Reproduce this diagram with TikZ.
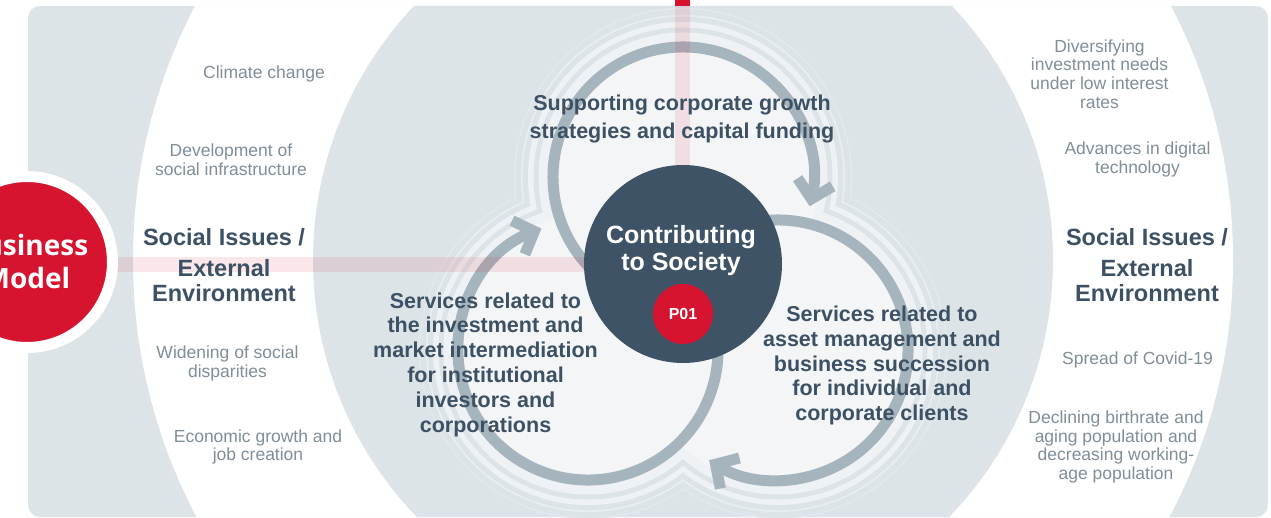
\documentclass[tikz,border=0pt]{standalone}
\usepackage{fontspec}
\setmainfont{Liberation Sans}
\newfontfamily\modelfont{Open Sans}
\usetikzlibrary{arrows.meta}

\definecolor{panel}{HTML}{DDE4E8}
\definecolor{trefoil}{HTML}{F3F5F7}
\definecolor{haloA}{HTML}{EEF2F4}
\definecolor{haloB}{HTML}{E9EEF1}
\definecolor{haloC}{HTML}{E5EAED}
\definecolor{loop}{HTML}{A6B4BD}
\definecolor{slate}{HTML}{3E5366}
\definecolor{ink}{HTML}{3D5165}
\definecolor{note}{HTML}{808E98}
\definecolor{accent}{HTML}{D7142F}

\tikzset{
  issue/.style={text=note, font=\fontsize{17.5}{18.8}\selectfont, align=center, inner sep=0pt},
  heading/.style={text=ink, font=\fontsize{23.5}{25}\selectfont\bfseries, align=center, inner sep=0pt},
  service/.style={text=ink, font=\fontsize{21.5}{24.8}\selectfont\bfseries, align=center, inner sep=0pt},
  loopline/.style={draw=loop, line width=11pt, -{Straight Barb[length=17pt,width=36pt]}},
  strip/.style={fill=accent, opacity=0.1},
}

% union of the three loop discs at a given radius
\newcommand\lobes[2]{\fill[#1] (top) circle[radius=#2] (lft) circle[radius=#2] (rgt) circle[radius=#2];}

\begin{document}
\begin{tikzpicture}[x=1pt,y=1pt]
\useasboundingbox (0,0) rectangle (1271,-518);

% panel with the white band of social issues
\fill[panel, rounded corners=12pt] (28,-6) rectangle (1268,-517);
\begin{scope}
  \clip[rounded corners=12pt] (28,-6) rectangle (1268,-517);
  \fill[white] (683,-260) circle[radius=550pt];
  \fill[panel] (683,-260) circle[radius=370pt];
\end{scope}

% centres of the three business loops
\coordinate (top) at (683,-177);
\coordinate (lft) at (588,-350);
\coordinate (rgt) at (778,-350);

% halo rings around the loops
\lobes{haloC}{169pt}
\lobes{panel}{167.8pt}
\lobes{haloB}{162pt}
\lobes{panel}{160.3pt}
\lobes{haloA}{155pt}
\lobes{panel}{149.5pt}
\lobes{haloA}{144.5pt}
\lobes{trefoil}{135.5pt}

% the three loops with their arrows
\draw[loopline] (top) ++(240:130pt) arc[start angle=240, end angle=-13, radius=130pt];
\draw[loopline] (rgt) ++(120:130pt) arc[start angle=120, end angle=-122, radius=130pt];
\draw[loopline] (lft) ++(20:130pt) arc[start angle=20, end angle=-249, radius=130pt];

% red guide lines
\fill[accent] (675,0) rectangle (690,-6);
\fill[strip] (675,-6) rectangle (690,-264);
\fill[strip] (100,-257) rectangle (683,-272);

% core circle
\node[circle, fill=slate, minimum size=198pt, inner sep=0pt] (society) at (683,-264) {};
\node[text=white, font=\fontsize{25}{27}\selectfont\bfseries, align=center, inner sep=0pt] (societytext) at (681,-251) {Contributing\\to Society};
\node[circle, fill=accent, minimum size=60pt, inner sep=0pt, text=white, font=\fontsize{16}{18}\selectfont\bfseries] (p01) at (683,-314) {P01};

% business model badge
\node[circle, fill=accent, draw=white, line width=11pt, minimum size=171pt, inner sep=0pt,
      text=white, font=\modelfont\fontsize{28}{33}\selectfont\bfseries, align=center] (model) at (27,-262) {Business\\Model};

% loop labels
\node[service] (growth) at (682,-118.5) {Supporting corporate growth\\[3.2pt]strategies and capital funding};
\node[service] (institutional) at (485.5,-364.5) {Services related to\\the investment and\\market intermediation\\for institutional\\investors and\\corporations};
\node[service] (individual) at (882,-365.5) {Services related to\\asset management and\\business succession\\for individual and\\corporate clients};

% left column of issues
\node[issue] (climate) at (264,-74) {Climate change};
\node[issue] (infra) at (231,-159.5) {Development of\\social infrastructure};
\node[heading] (envleft) at (224,-265) {Social Issues /\\[6pt]External\\Environment};
\node[issue] (disparity) at (227.5,-363.5) {Widening of social\\disparities};
\node[issue] (jobs) at (258,-447) {Economic growth and\\job creation};

% right column of issues
\node[issue] (rates) at (1099.5,-74) {Diversifying\\investment needs\\under low interest\\rates};
\node[issue] (digital) at (1137.5,-159.5) {Advances in digital\\technology};
\node[heading] (envright) at (1147,-265) {Social Issues /\\[6pt]External\\Environment};
\node[issue] (covid) at (1137.5,-360) {Spread of Covid-19};
\node[issue] (ageing) at (1116,-447) {Declining birthrate and\\aging population and\\decreasing working-\\age population};
\end{tikzpicture}
\end{document}
